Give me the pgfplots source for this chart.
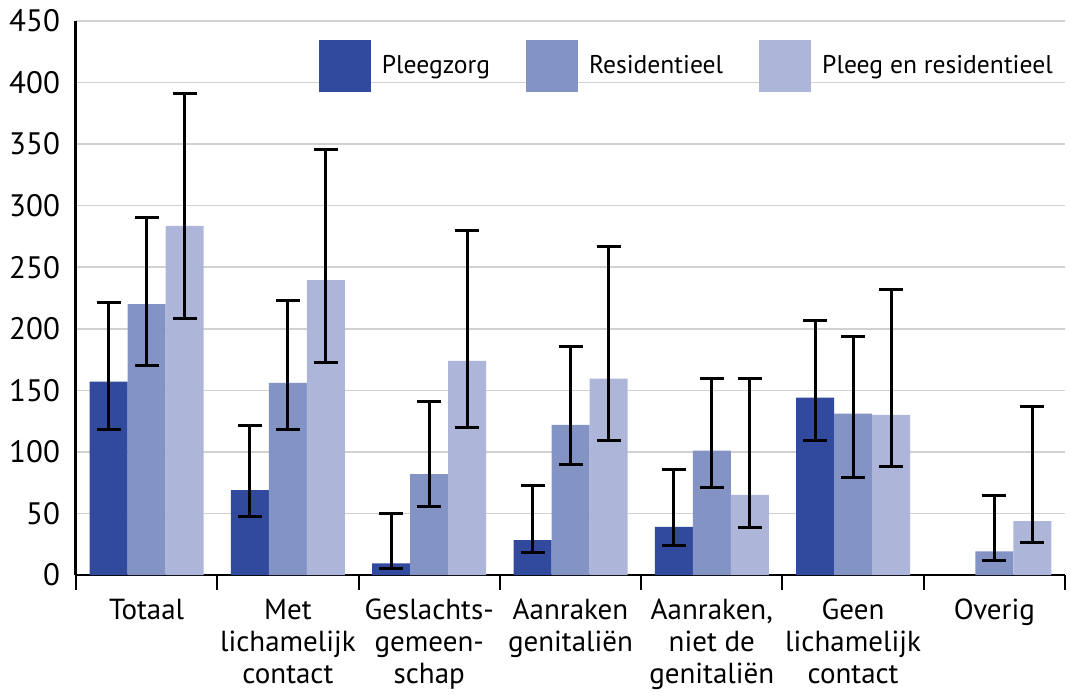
\documentclass[border=0pt]{standalone}
\usepackage{pgfplots}
\pgfplotsset{compat=1.18}
\usepackage{fontspec}
\setmainfont{PT Sans}

\definecolor{cDark}{RGB}{49,74,158}
\definecolor{cMid}{RGB}{131,147,196}
\definecolor{cLight}{RGB}{173,181,217}

\begin{document}
\begin{tikzpicture}
\begin{axis}[
    name=ax,
    scale only axis,
    width=494.5pt, height=277pt,
    xmin=-0.5, xmax=6.5,
    ymin=0, ymax=450,
    ytick={0,50,...,450},
    xtick={0,...,6},
    xticklabels={Totaal,{Met\\lichamelijk\\contact},{Geslachts-\\gemeen-\\schap},{Aanraken\\genitaliën},{Aanraken,\\niet de\\genitaliën},{Geen\\lichamelijk\\contact},Overig},
    minor xtick={-0.5,0.5,...,6.5},
    major tick length=0pt,
    minor tick length=7.5pt,
    tick align=inside,
    axis x line=bottom,
    axis y line=left,
    axis line style={-},
    y axis line style={line width=1.5pt},
    x axis line style={line width=1pt},
    minor tick style={line width=1pt, black},
    ymajorgrids,
    grid style={line width=0.75pt, color=black!18},
    ybar=0pt,
    bar width=19pt,
    /pgf/number format/assume math mode=true,
    tick label style={font=\fontsize{15.5}{16}\selectfont},
    yticklabel style={xshift=-4.5pt},
    xticklabel style={align=center, font=\fontsize{14.5}{16}\selectfont, yshift=-8.5pt},
    legend columns=3,
    legend style={
        draw=none, fill=none,
        at={(rel axis cs:0.988,0.9657)}, anchor=north east,
        font=\fontsize{12.8}{15}\selectfont,
        inner sep=0pt,
        nodes={inner sep=0pt},
        /tikz/every odd column/.append style={column sep=5.5pt},
        /tikz/every even column/.append style={column sep=18pt},
    },
    legend image code/.code={\fill[#1] (0pt,-13pt) rectangle (26pt,13pt);},
    error bars/y dir=both,
    error bars/y explicit,
    error bars/error bar style={line width=1.5pt, black},
    error bars/error mark options={rotate=90, mark size=6pt, line width=1.5pt, black},
]
\addplot[fill=cDark, draw=none] coordinates {
    (0,157) += (0,64) -= (0,39)
    (1,69)  += (0,52.5) -= (0,21.7)
    (2,9.5) += (0,40.5) -= (0,4.3)
    (3,28.3) += (0,44.7) -= (0,10.3)
    (4,39)  += (0,47) -= (0,15)
    (5,144) += (0,62.7) -= (0,35)
};
\addplot[fill=cMid, draw=none] coordinates {
    (0,220) += (0,70) -= (0,50)
    (1,156) += (0,67) -= (0,38)
    (2,82)  += (0,59) -= (0,26)
    (3,122) += (0,63.5) -= (0,32.3)
    (4,101) += (0,59) -= (0,30)
    (5,131) += (0,63) -= (0,51.6)
    (6,19.3) += (0,45.4) -= (0,7.6)
};
\addplot[fill=cLight, draw=none] coordinates {
    (0,283.6) += (0,107.4) -= (0,75.1)
    (1,239.5) += (0,106.5) -= (0,66.8)
    (2,174) += (0,106) -= (0,54.4)
    (3,159.6) += (0,106.9) -= (0,50.6)
    (4,65)  += (0,94.6) -= (0,26)
    (5,130) += (0,102) -= (0,42)
    (6,43.8) += (0,92.7) -= (0,17.4)
};
\legend{Pleegzorg,Residentieel,Pleeg en residentieel}
\end{axis}
\path ([shift={(-38pt,-60pt)}]ax.south west) rectangle ([shift={(3pt,10.5pt)}]ax.north east);
\end{tikzpicture}
\end{document}
